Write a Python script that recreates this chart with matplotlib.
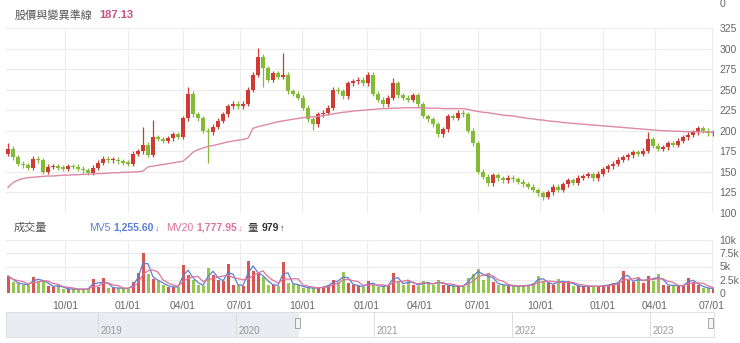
import matplotlib
matplotlib.use("Agg")
import matplotlib.pyplot as plt
import numpy as np
import pandas as pd
from matplotlib.patches import Rectangle

plt.rcParams["font.family"] = ["Liberation Sans", "Noto Sans CJK TC", "DejaVu Sans"]

# weekly-ish closes (one candle every ~5 trading days)
first_open = 172
closes = [
    178, 168, 160, 158, 155, 166, 164, 150, 156, 157,
    155, 154, 157, 156, 154, 152, 149, 155, 161, 166,
    164, 165, 163, 161, 160, 172, 175, 183, 171, 192,
    190, 188, 191, 196, 193, 215, 245, 220, 215, 200,
    198, 205, 212, 220, 230, 233, 230, 233, 250, 268,
    290, 276, 262, 270, 266, 268, 248, 245, 240, 228,
    214, 208, 220, 222, 228, 250, 248, 242, 258, 260,
    262, 258, 268, 245, 238, 232, 240, 258, 243, 240,
    238, 243, 232, 218, 214, 208, 196, 202, 218, 216,
    222, 220, 200, 185, 150, 144, 136, 146, 142, 140,
    143, 141, 138, 135, 132, 128, 124, 120, 125, 132,
    128, 135, 140, 137, 143, 145, 147, 142, 148, 153,
    157, 160, 165, 168, 170, 174, 172, 176, 190, 182,
    178, 180, 185, 183, 188, 192, 195, 198, 203, 200,
    197, 198,
]
spike_highs = {0: 185, 27: 204, 29: 213, 36: 253, 50: 301, 55: 295, 77: 264, 128: 198}
spike_lows = {40: 161, 51: 253, 61: 201, 107: 116}

# baseline line (pink)
baseline = [
    131, 137, 140, 142, 143, 143.5, 144, 144.5, 145, 145,
    145.5, 146, 146, 146.5, 146.5, 147, 147, 147.5, 148, 148,
    148.5, 149, 149, 149.5, 149.5, 150, 150, 151, 156, 157,
    158, 159, 160, 161, 162, 163, 168, 174, 177, 179,
    181, 182, 183.5, 185, 186.5, 187.5, 188.5, 189.5, 191, 203,
    205, 206.5, 208, 209.5, 211, 212, 213, 214, 215, 216,
    216.5, 217, 217.5, 218.5, 219.5, 220.5, 221.5, 222.5, 223, 224,
    224.5, 225, 225.5, 226, 226.5, 227, 227, 227.5, 227.5, 228,
    228, 228, 228, 228, 227.5, 227.5, 227.5, 227, 227, 227,
    227, 227, 226, 224.5, 223.5, 222.5, 222, 221, 220, 219,
    218.5, 218, 217, 216, 215, 214.5, 213.5, 213, 212, 211.5,
    211, 210, 209.5, 209, 208.5, 208, 207.5, 207, 206.5, 206,
    205.5, 205, 204.5, 204, 203.5, 203, 202.5, 202, 201.5, 201,
    200.5, 200, 200, 199.5, 199.5, 199, 199, 199, 198.5, 198.5,
    198.5, 198.5,
]

# volume in thousands
volume = [
    3.2, 2.0, 1.8, 1.6, 1.5, 3.0, 2.2, 2.5, 1.3, 1.2,
    1.5, 0.8, 0.8, 0.7, 0.7, 0.7, 0.8, 2.6, 1.2, 2.8,
    1.0, 1.0, 0.9, 0.9, 0.8, 2.0, 3.8, 7.5, 3.5, 2.6,
    2.2, 1.6, 1.2, 1.1, 1.2, 5.2, 3.4, 2.4, 1.5, 1.4,
    4.8, 3.4, 2.4, 2.2, 5.5, 1.6, 1.5, 1.4, 6.0, 4.2,
    3.5, 3.0, 1.6, 1.5, 1.4, 5.8, 1.8, 1.7, 1.5, 1.0,
    1.0, 0.9, 1.0, 1.2, 1.5, 2.5, 2.0, 4.0, 1.8, 1.5,
    1.3, 1.2, 2.2, 1.5, 1.2, 1.3, 1.5, 3.8, 2.0, 1.5,
    2.5, 1.6, 1.4, 2.2, 1.8, 1.6, 2.4, 1.5, 1.4, 1.3,
    1.2, 1.4, 2.8, 3.5, 4.6, 2.5, 3.8, 2.0, 1.6, 1.5,
    1.4, 1.3, 1.2, 1.5, 1.4, 1.8, 3.2, 2.2, 1.8, 1.5,
    2.6, 1.8, 2.2, 1.4, 1.3, 1.2, 1.4, 1.2, 1.3, 1.4,
    1.6, 1.8, 2.0, 4.2, 2.4, 2.0, 3.0, 1.8, 3.2, 2.2,
    3.6, 1.6, 1.4, 1.5, 1.3, 1.4, 2.8, 2.0, 1.5, 1.0,
    0.9, 0.8,
]

tick_labels = ["10/01", "01/01", "04/01", "07/01", "10/01", "01/01",
               "04/01", "07/01", "10/01", "01/01", "04/01", "07/01"]
tick_pos = [11.4, 24, 35, 46.4, 58.8, 71.8, 82.4, 94, 106.4, 119, 129.4, 140.8]
nav_years = [2019, 2020, 2021, 2022, 2023]

RED = "#cf3a33"
GREEN = "#84bb35"
PINK = "#dc8aa6"
BLUE = "#5b7fd4"
MV20_PINK = "#e0739b"
GRID = "#ececec"
TXT = "#666666"
WICK = 3

W, H = 740, 343


def frac(x0, y0, x1, y1):
    return [x0 / W, 1 - y1 / H, (x1 - x0) / W, (y1 - y0) / H]


fig = plt.figure(figsize=(W / 100, H / 100), dpi=100)
ax = fig.add_axes(frac(6, 28, 714, 213))
axv = fig.add_axes(frac(6, 240, 714, 293))
axn = fig.add_axes(frac(6, 312, 714, 337))

c = np.array(closes, dtype=float)
o = np.r_[first_open, c[:-1]]
idx = np.arange(len(c))
up = c >= o
cols = np.where(up, RED, GREEN)
hi = np.maximum(o, c) + WICK
lo = np.minimum(o, c) - WICK
for k, v in spike_highs.items():
    hi[k] = v
for k, v in spike_lows.items():
    lo[k] = v

# price panel
ax.vlines(idx, lo, hi, colors=cols, lw=0.9, zorder=2)
ax.bar(idx, np.maximum(np.abs(c - o), 1.5), bottom=np.minimum(o, c),
       width=0.85, color=cols, lw=0, zorder=3)
ax.plot(idx, baseline, color=PINK, lw=1.0, zorder=4)

ax.set_xlim(-0.4, 141.2)
ax.set_ylim(100, 325)
ax.set_yticks(range(100, 326, 25))
ax.set_xticks(tick_pos)
ax.yaxis.tick_right()
ax.tick_params(axis="y", length=0, pad=4, labelsize=7.5, labelcolor=TXT)
ax.tick_params(axis="x", length=0, labelbottom=False)
ax.grid(True, color=GRID, lw=0.8, zorder=0)
for s in ax.spines.values():
    s.set_visible(False)

# volume panel
vol = pd.Series(volume)
axv.bar(idx, vol, width=0.6, color=cols, lw=0, alpha=0.85, zorder=2)
axv.plot(idx, vol.rolling(2, min_periods=1).mean(), color=BLUE, lw=0.9, zorder=3)
axv.plot(idx, vol.rolling(4, min_periods=1).mean(), color=MV20_PINK, lw=0.9, zorder=3)
axv.set_xlim(-0.4, 141.2)
axv.set_ylim(0, 10)
axv.set_yticks([0, 2.5, 5, 7.5, 10])
axv.set_yticklabels(["0", "2.5k", "5k", "7.5k", "10k"])
axv.set_xticks(tick_pos)
axv.set_xticklabels(tick_labels)
axv.yaxis.tick_right()
axv.tick_params(axis="y", length=0, pad=4, labelsize=7.5, labelcolor=TXT)
axv.tick_params(axis="x", length=0, pad=6, labelsize=7.5, labelcolor=TXT)
axv.grid(True, color=GRID, lw=0.8, zorder=0)
for s in axv.spines.values():
    s.set_visible(False)

# navigator
x0, x1 = 2018.333, 2023.464
axn.set_xlim(x0, x1)
axn.set_ylim(0, 1)
axn.axvspan(x0, 2020.46, color="#e9ecf0", lw=0, zorder=0)
for yr in nav_years:
    axn.axvline(yr, color="#d8d8d8", lw=0.6, zorder=1)
    axn.text(yr + 0.02, 0.24, str(yr), fontsize=7, color="#9a9a9a", va="center")
for hx in (2020.445, 2023.44):
    axn.add_patch(Rectangle((hx - 0.016, 0.36), 0.032, 0.4, facecolor="#f4f4f4",
                            edgecolor="#999999", lw=0.6, zorder=3))
axn.set_xticks([])
axn.set_yticks([])
for s in axn.spines.values():
    s.set_color("#dddddd")
    s.set_linewidth(0.6)


def chain(prev, text, gap, **kw):
    # put a text just to the right of the previous one
    return fig.add_artist(matplotlib.text.Annotation(
        text, xy=(1, 0.5), xycoords=prev, xytext=(gap, 0),
        textcoords="offset points", va="center", **kw))


# header texts
fig.text(15 / W, 1 - 15 / H, "股價與變異準線", fontsize=8, color="#555555", va="center")
fig.text(99 / W, 1 - 15 / H, "187.13", fontsize=8, color="#c9517f", va="center", weight="bold")
fig.text(720 / W, 1 - 4 / H, "0", fontsize=7.5, color=TXT, va="center")

hy = 1 - 228 / H
fig.text(14 / W, hy, "成交量", fontsize=8, color="#555555", va="center")
t = fig.text(89 / W, hy, "MV5", fontsize=7.5, color=BLUE, va="center")
t = chain(t, "1,255.60", 2, fontsize=7.5, color=BLUE, weight="bold")
chain(t, "↓", 1, fontsize=6.5, color=BLUE)
t = fig.text(166 / W, hy, "MV20", fontsize=7.5, color=MV20_PINK, va="center")
t = chain(t, "1,777.95", 2, fontsize=7.5, color=MV20_PINK, weight="bold")
chain(t, "↓", 1, fontsize=6.5, color=MV20_PINK)
t = fig.text(248 / W, hy, "量", fontsize=7.5, color="#333333", va="center")
t = chain(t, "979", 2, fontsize=7.5, color="#333333", weight="bold")
chain(t, "↑", 1, fontsize=6.5, color="#333333")

fig.savefig("out.png", dpi=100)
